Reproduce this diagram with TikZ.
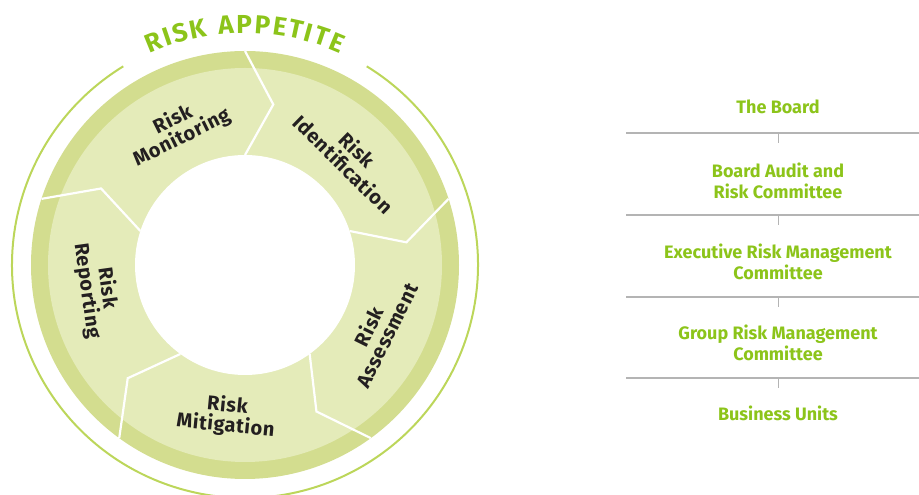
\documentclass[tikz,border=0pt]{standalone}
\usepackage{fontspec}
\setmainfont{Fira Sans}
\usetikzlibrary{calc}
\definecolor{ringdark}{HTML}{D3DD8F}
\definecolor{ringlight}{HTML}{E4EBB9}
\definecolor{arcgreen}{HTML}{BCD65A}
\definecolor{appgreen}{HTML}{8CC41A}
\definecolor{sepgray}{HTML}{B4B4B4}
\definecolor{labelink}{HTML}{231F20}
\tikzset{
  steplabel/.style={align=center, text=labelink, inner sep=0pt,
    font=\bfseries\fontsize{20}{20}\selectfont\addfontfeatures{LetterSpace=3}},
  orgtext/.style={align=center, text=appgreen, inner sep=0pt,
    font=\bfseries\fontsize{18}{21}\selectfont},
  apptext/.style={text=appgreen, inner sep=0pt, anchor=base,
    font=\bfseries\fontsize{26}{26}\selectfont},
  sepline/.style={draw=sepgray, line width=1.3pt},
  septick/.style={draw=sepgray, line width=1pt},
  chevron/.style={draw=white, line width=2.2pt, line join=miter}
}
\begin{document}
\begin{tikzpicture}[x=1pt,y=1pt]
\useasboundingbox (0,0) rectangle (919,495);
\coordinate (C) at (245,230);
% ring
\fill[ringdark] (C) circle[radius=214];
\fill[ringlight] (C) circle[radius=197];
\fill[white] (C) circle[radius=110];
\foreach \t in {90,18,-54,-126,162}
  \draw[chevron] ($(C)+(\t:214)$) -- ($(C)+(\t-10:163)$) -- ($(C)+(\t:110)$);
% outer arc
\draw[arcgreen, line width=2pt] ($(C)+(121.5:233)$) arc[start angle=121.5, end angle=418.5, radius=233];
% RISK APPETITE
\foreach \ch/\a [count=\i] in {R/112.24, I/108.78, S/105.53, K/101.34, A/94.60, P/90.18, P/85.83, E/81.66, T/77.74, I/74.59, T/71.43, E/67.51}
  \node[apptext, rotate=\a-90] (app\i) at ($(C)+(\a:232)$) {\ch};
% labels
\node[steplabel, rotate=-44.3] (ident) at ($(C)+(45.7:151)$) {Risk\\Identification};
\node[steplabel, rotate=63.6] (assess) at ($(C)+(-26.4:148)$) {Risk\\Assessment};
\node[steplabel, rotate=-5.5] (mitig) at ($(C)+(-97:152)$) {Risk\\Mitigation};
\node[steplabel, rotate=-82] (report) at ($(C)+(-170.6:150)$) {Risk\\Reporting};
\node[steplabel, rotate=26.4] (monit) at ($(C)+(116.4:152)$) {Risk\\Monitoring};
% right side hierarchy
\node[orgtext] (board) at (778,388) {The Board};
\node[orgtext] (audit) at (778,314) {Board Audit and\\Risk Committee};
\node[orgtext] (exec) at (778,233) {Executive Risk Management\\Committee};
\node[orgtext] (group) at (778,152.5) {Group Risk Management\\Committee};
\node[orgtext] (units) at (778,82) {Business Units};
\foreach \n/\y in {1/362, 2/280, 3/198, 4/117} {
  \coordinate (sl\n) at (626,\y);
  \coordinate (sr\n) at (919,\y);
  \coordinate (tt\n) at (778,\y);
  \coordinate (tb\n) at (778,\y-10);
  \draw[sepline] (sl\n) -- (sr\n);
  \draw[septick] (tt\n) -- (tb\n);
}
\end{tikzpicture}
\end{document}
